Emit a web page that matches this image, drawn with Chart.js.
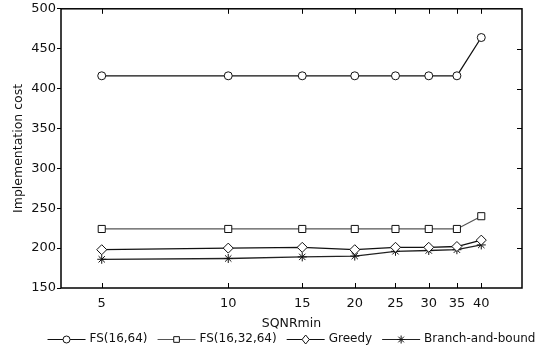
<!DOCTYPE html>
<html>
<head>
<meta charset="utf-8">
<script src="https://cdn.jsdelivr.net/npm/chart.js@4/dist/chart.umd.min.js"></script>
<style>
html,body{margin:0;padding:0;background:#fff;}
#wrap{width:543px;height:351px;position:relative;}
</style>
</head>
<body>
<div id="wrap"><canvas id="c" width="543" height="351"></canvas></div>
<script>
// ---- data ----
const sqnrMin = [5, 10, 15, 20, 25, 30, 35, 40];
const fs1664 = [416, 416, 416, 416, 416, 416, 416, 464];
const fs163264 = [224, 224, 224, 224, 224, 224, 224, 240];
const greedy = [198, 200, 201, 198, 201, 201, 202, 210];
const branchBound = [186, 187, 189, 190, 196, 197, 198, 204];
const yTicks = [150, 200, 250, 300, 350, 400, 450, 500];
const seriesNames = ['FS(16,64)', 'FS(16,32,64)', 'Greedy', 'Branch-and-bound'];

const FONT = '"DejaVu Sans", sans-serif';
const pts = arr => sqnrMin.map((x, i) => ({x: x, y: arr[i]}));

const styles = [
  {color: '#111111', point: 'circle', r: 4, lr: 3.5},
  {color: '#555555', point: 'rect', r: 5, lr: 4},
  {color: '#111111', point: 'rectRot', r: 5, lr: 4.5},
  {color: '#222222', point: 'star', r: 4.5, lr: 4}
];
const seriesData = [fs1664, fs163264, greedy, branchBound];

function drawMarker(ctx, style, x, y, r, color) {
  ctx.save();
  ctx.strokeStyle = color; ctx.fillStyle = '#fff'; ctx.lineWidth = 1;
  ctx.beginPath();
  if (style === 'circle') {
    ctx.arc(x, y, r, 0, Math.PI * 2); ctx.fill(); ctx.stroke();
  } else if (style === 'rect') {
    const s = r * Math.SQRT1_2;
    ctx.rect(x - s, y - s, 2 * s, 2 * s); ctx.fill(); ctx.stroke();
  } else if (style === 'rectRot') {
    ctx.moveTo(x, y - r); ctx.lineTo(x + r * 0.8, y); ctx.lineTo(x, y + r); ctx.lineTo(x - r * 0.8, y); ctx.closePath();
    ctx.fill(); ctx.stroke();
  } else if (style === 'star') {
    for (let k = 0; k < 4; k++) {
      const a = k * Math.PI / 4;
      ctx.moveTo(x - Math.cos(a) * r, y - Math.sin(a) * r);
      ctx.lineTo(x + Math.cos(a) * r, y + Math.sin(a) * r);
    }
    ctx.stroke();
  }
  ctx.restore();
}

const framePlugin = {
  id: 'frame',
  afterDatasetsDraw(chart) {
    const ctx = chart.ctx, a = chart.chartArea;
    const xs = chart.scales.x, ys = chart.scales.y;
    ctx.save();
    ctx.strokeStyle = '#000';
    ctx.lineWidth = 1.5;
    ctx.strokeRect(a.left, a.top, a.right - a.left, a.bottom - a.top);
    ctx.lineWidth = 1;
    ctx.beginPath();
    const tl = 5;
    sqnrMin.forEach(v => {
      const px = Math.round(xs.getPixelForValue(v)) + 0.5;
      ctx.moveTo(px, a.bottom); ctx.lineTo(px, a.bottom - tl);
      ctx.moveTo(px, a.top); ctx.lineTo(px, a.top + tl);
    });
    yTicks.forEach(v => {
      if (v === yTicks[0] || v === yTicks[yTicks.length - 1]) return;
      const py = Math.round(ys.getPixelForValue(v)) + 0.5;
      ctx.moveTo(a.right, py); ctx.lineTo(a.right - tl, py);
    });
    ctx.stroke();
    ctx.restore();
  },
  afterDraw(chart) {
    const ctx = chart.ctx, a = chart.chartArea;
    ctx.save();
    ctx.font = '12px ' + FONT;
    ctx.textBaseline = 'middle';
    ctx.fillStyle = '#111';
    const lineLen = 38, gapText = 4, gapItem = 10;
    const widths = seriesNames.map(n => lineLen + gapText + ctx.measureText(n).width);
    const total = widths.reduce((s, w) => s + w, 0) + gapItem * (seriesNames.length - 1);
    let x = (a.left + a.right) / 2 - total / 2;
    const y = 339;
    seriesNames.forEach((n, i) => {
      const st = styles[i];
      ctx.strokeStyle = st.color; ctx.lineWidth = 1.2;
      ctx.beginPath(); ctx.moveTo(x, y + 0.5); ctx.lineTo(x + lineLen, y + 0.5); ctx.stroke();
      drawMarker(ctx, st.point, x + lineLen / 2, y + 0.5, st.lr, '#111');
      ctx.fillStyle = '#111';
      ctx.fillText(n, x + lineLen + gapText, y);
      x += widths[i] + gapItem;
    });
    ctx.restore();
  }
};

const datasets = seriesNames.map((n, i) => ({
  label: n,
  data: pts(seriesData[i]),
  borderColor: styles[i].color,
  borderWidth: 1.3,
  backgroundColor: '#fff',
  pointStyle: styles[i].point,
  pointRadius: styles[i].r,
  pointBorderColor: '#111',
  pointBackgroundColor: '#fff',
  pointBorderWidth: 1,
  tension: 0,
  fill: false
}));

new Chart(document.getElementById('c'), {
  type: 'line',
  data: {datasets: datasets},
  plugins: [framePlugin],
  options: {
    responsive: false,
    animation: false,
    devicePixelRatio: 1,
    layout: {padding: {top: 8, right: 21, left: 0, bottom: 20}},
    plugins: {legend: {display: false}, tooltip: {enabled: false}},
    scales: {
      x: {
        type: 'logarithmic',
        min: 4, max: 50,
        afterBuildTicks: s => { s.ticks = sqnrMin.map(v => ({value: v})); },
        afterFit: s => { s.height = 43; },
        grid: {display: false, drawTicks: false},
        border: {display: false},
        ticks: {
          autoSkip: false, maxRotation: 0, padding: 8,
          color: '#111', font: {family: FONT, size: 13},
          callback: v => String(v)
        },
        title: {display: true, text: 'SQNRmin', color: '#111', font: {family: FONT, size: 12.5}, padding: {top: 2, bottom: 0}}
      },
      y: {
        min: 150, max: 500,
        afterBuildTicks: s => { s.ticks = yTicks.map(v => ({value: v})); },
        afterFit: s => { s.width = 61; },
        grid: {drawOnChartArea: false, tickLength: 4, color: '#000', tickColor: '#000'},
        border: {display: false},
        ticks: {padding: 1, color: '#111', font: {family: FONT, size: 13}},
        title: {display: true, text: 'Implementation cost', color: '#111', font: {family: FONT, size: 12.5}, padding: {top: 11, bottom: 0}}
      }
    }
  }
});
</script>
</body>
</html>
